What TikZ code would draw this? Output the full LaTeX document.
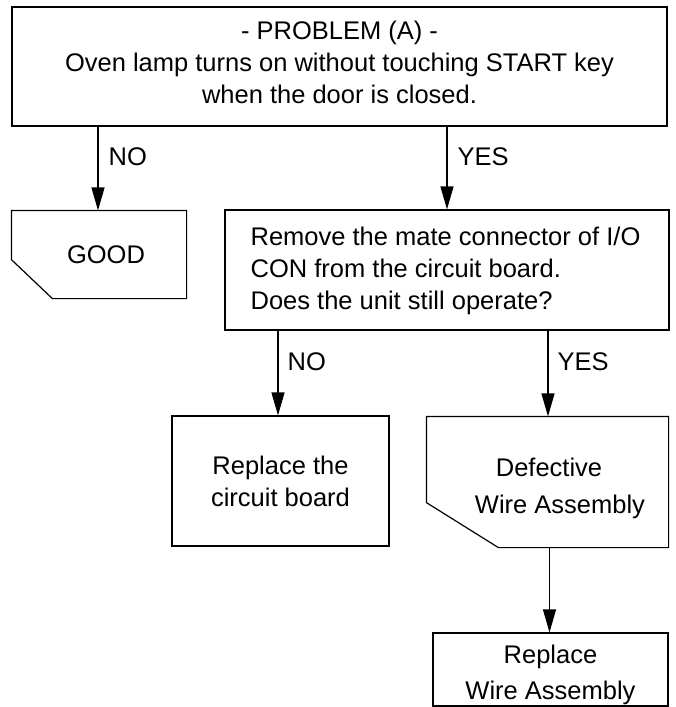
\documentclass[tikz,border=0pt]{standalone}
\usepackage{fontspec}
\setmainfont{Liberation Sans}
\usetikzlibrary{arrows.meta}
\begin{document}
\begin{tikzpicture}[x=1pt,y=-1pt,
  every node/.style={font=\fontsize{25.5}{32}\selectfont, inner sep=0pt},
  box/.style={draw, line width=1.2pt, minimum width=#1},
  plain/.style={minimum width=#1},
  arr/.style={line width=1.2pt, -{Triangle[length=23pt,width=13pt]}},
  lbl/.style={anchor=west},
  line width=1.2pt]
\useasboundingbox (0,0) rectangle (675,707);

% boxes
\node[box=655pt, minimum height=119pt] (top) at (339.5,66.5) {};
\node[align=center] (topt) at (339.5,62.5)
  {- PROBLEM (A) -\\Oven lamp turns on without touching START key\\when the door is closed.};
\node[plain=174pt, minimum height=87pt] (good) at (99,254.5) {};
\node at (106,254.5) (goodt) {GOOD};
\node[box=444pt, minimum height=120pt] (mid) at (447,270) {};
\node[align=left, anchor=west] (midt) at (250,271)
  {Remove the mate connector of I/O\\CON from the circuit board.\\Does the unit still operate?};
\node[box=217pt, minimum height=130pt, align=center] (rcb) at (280.5,481)
  {Replace the\\circuit board};
\node[plain=241pt, minimum height=130pt] (def) at (547.5,482) {};
\node (deft1) at (549,467) {Defective};
\node (deft2) at (560,507) {Wire Assembly};
\node[box=235pt, minimum height=73pt] (rwa) at (550.5,669.5) {};
\node[align=center, font=\fontsize{25.5}{36}\selectfont] (rwat) at (550.5,674.5)
  {Replace\\Wire Assembly};

% cut-corner outlines
\draw (good.north west) -- (good.north east) -- (good.south east)
  -- ([xshift=41pt]good.south west) -- ([yshift=39pt]good.south west) -- cycle;
\draw (def.north west) -- (def.north east) -- (def.south east)
  -- ([xshift=72pt]def.south west) -- ([yshift=45pt]def.south west) -- cycle;

% connectors
\draw[arr] (top.south -| good.north) ++(-1pt,0) coordinate (a1) (a1) -- (a1 |- good.north);
\draw[arr] (top.south -| mid.north) -- (mid.north);
\draw[arr] ([xshift=-2.5pt]mid.south -| rcb.north) -- ([xshift=-2.5pt]rcb.north);
\coordinate (c1) at (548,0);
\draw[arr] (mid.south -| c1) -- (def.north -| c1);
\coordinate (c2) at (549.5,0);
\draw[arr] (def.south -| c2) -- (rwa.north -| c2);

% labels
\node[lbl] (l1) at (108,157) {NO};
\node[lbl] (l2) at (457,157) {YES};
\node[lbl] (l3) at (287,362) {NO};
\node[lbl] (l4) at (557,362) {YES};
\end{tikzpicture}
\end{document}
